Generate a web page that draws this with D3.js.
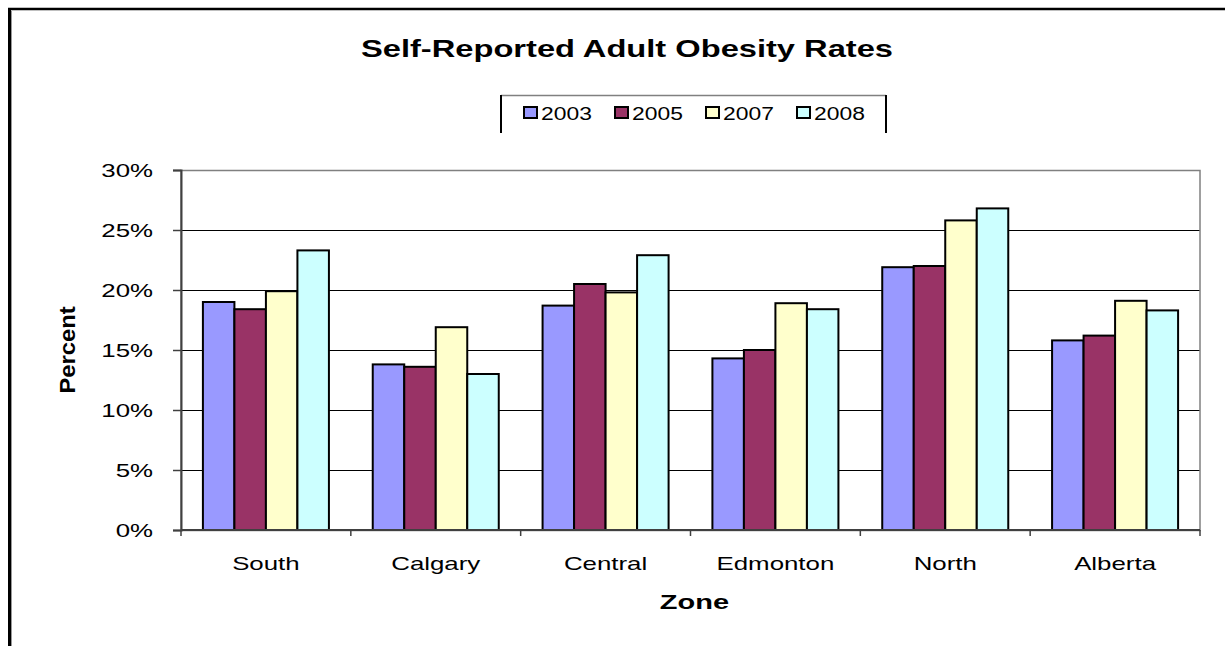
<!DOCTYPE html>
<html lang="en">
<head>
    <meta charset="UTF-8">
    <script src="https://d3js.org/d3.v7.min.js"></script>
    <title>Self-Reported Adult Obesity Rates</title>
    <style>
        body { margin: 0; background: #fff; }
        text { font-family: "Liberation Sans", Arial, sans-serif; fill: #000; }
    </style>
</head>
<body>
<svg class="chart"></svg>
</body>

<script>
    // data (percent)
    let zones = ['South', 'Calgary', 'Central', 'Edmonton', 'North', 'Alberta'];
    let years = ['2003', '2005', '2007', '2008'];
    let v2003 = [19.0, 13.8, 18.7, 14.3, 21.9, 15.8];
    let v2005 = [18.4, 13.6, 20.5, 15.0, 22.0, 16.2];
    let v2007 = [19.9, 16.9, 19.8, 18.9, 25.8, 19.1];
    let v2008 = [23.3, 13.0, 22.9, 18.4, 26.8, 18.3];
    let yTicks = [0, 5, 10, 15, 20, 25, 30];
    let colors = ['#9999ff', '#993366', '#ffffcc', '#ccffff'];

    let series = [v2003, v2005, v2007, v2008];

    let chart_width = 1225, chart_height = 646;
    let plotLeft = 181, plotRight = 1200, plotTop = 170, plotBottom = 530;

    let svg = d3.select('.chart').attr('width', chart_width).attr('height', chart_height);

    // stretch text horizontally like the source image
    function stretch(sel, k) {
        sel.each(function () {
            let w = this.getComputedTextLength();
            d3.select(this).attr('textLength', w * k).attr('lengthAdjust', 'spacingAndGlyphs');
        });
    }

    // outer chart border (left + top)
    svg.append('line').attr('x1', 9.5).attr('x2', 9.5).attr('y1', 8).attr('y2', chart_height)
        .style('stroke', '#000').style('stroke-width', 3);
    svg.append('line').attr('x1', 8).attr('x2', chart_width).attr('y1', 9).attr('y2', 9)
        .style('stroke', '#000').style('stroke-width', 2.5);
    svg.append('line').attr('x1', 11.5).attr('x2', 11.5).attr('y1', 11).attr('y2', chart_height)
        .style('stroke', '#999').style('stroke-width', 1);

    let y = d3.scaleLinear().domain([0, 30]).range([plotBottom, plotTop]);

    let x = d3.scaleBand().domain(zones).range([plotLeft, plotRight])
        .paddingInner(0.258).paddingOuter(0.129);
    let xs = d3.scaleBand().domain(years).range([0, x.bandwidth()]);

    // grid
    svg.append('g').selectAll('line')
        .data(yTicks.filter(d => d > 0 && d < 30))
        .enter()
        .append('line')
        .attr('x1', plotLeft).attr('x2', plotRight)
        .attr('y1', d => Math.round(y(d)) + 0.5).attr('y2', d => Math.round(y(d)) + 0.5)
        .style('stroke', '#000').style('stroke-width', 1.2);

    // plot area border
    svg.append('rect').attr('x', plotLeft).attr('y', plotTop + 0.5)
        .attr('width', plotRight - plotLeft).attr('height', plotBottom - plotTop)
        .style('fill', 'none').style('stroke', '#808080').style('stroke-width', 1.5);

    // bars
    let groups = svg.append('g').selectAll('g')
        .data(zones)
        .enter()
        .append('g')
        .attr('transform', d => 'translate(' + x(d) + ',0)');

    groups.selectAll('rect')
        .data((z, i) => years.map((yr, j) => ({ year: yr, value: series[j][i], j: j })))
        .enter()
        .append('rect')
        .attr('x', d => xs(d.year))
        .attr('width', xs.bandwidth())
        .attr('y', d => y(d.value))
        .attr('height', d => plotBottom - y(d.value))
        .style('fill', d => colors[d.j])
        .style('stroke', '#000').style('stroke-width', 2);

    // y axis
    let yAxis = svg.append('g')
        .attr('transform', 'translate(' + plotLeft + ',0)')
        .call(d3.axisLeft(y).tickValues(yTicks).tickFormat(d => d + '%').tickSize(8).tickPadding(20));
    yAxis.select('.domain').style('stroke', '#404040').style('stroke-width', 2);
    yAxis.selectAll('.tick line').style('stroke', '#404040').style('stroke-width', 1.5);
    yAxis.selectAll('text').style('font-size', '19px').attr('dy', '0.36em')
        .style('font-family', '"Liberation Sans", Arial, sans-serif').call(stretch, 1.36);

    // x axis
    let xAxis = svg.append('g').attr('transform', 'translate(0,' + plotBottom + ')');
    xAxis.append('line').attr('x1', plotLeft).attr('x2', plotRight).attr('y1', 0).attr('y2', 0)
        .style('stroke', '#404040').style('stroke-width', 2);
    xAxis.selectAll('.bound')
        .data(d3.range(zones.length + 1))
        .enter()
        .append('line')
        .attr('x1', i => plotLeft + i * x.step()).attr('x2', i => plotLeft + i * x.step())
        .attr('y1', 0).attr('y2', 6)
        .style('stroke', '#404040').style('stroke-width', 1.5);
    xAxis.selectAll('.lab')
        .data(zones)
        .enter()
        .append('text')
        .attr('x', d => x(d) + x.bandwidth() / 2)
        .attr('y', 40)
        .attr('text-anchor', 'middle')
        .style('font-size', '19px')
        .text(d => d)
        .call(stretch, 1.36);

    // titles
    svg.append('text').attr('x', 627).attr('y', 57).attr('text-anchor', 'middle')
        .style('font-size', '24px').style('font-weight', 'bold')
        .text('Self-Reported Adult Obesity Rates').call(stretch, 1.36);
    svg.append('text').attr('x', (plotLeft + plotRight) / 2 + 4).attr('y', 609).attr('text-anchor', 'middle')
        .style('font-size', '21px').style('font-weight', 'bold')
        .text('Zone').call(stretch, 1.38);
    svg.append('text').attr('transform', 'translate(75,' + (plotTop + plotBottom) / 2 + ') rotate(-90)')
        .attr('text-anchor', 'middle')
        .style('font-size', '22px').style('font-weight', 'bold')
        .text('Percent').call(stretch, 1.08);

    // legend
    let legend = svg.append('g');
    legend.append('line').attr('x1', 501).attr('x2', 886).attr('y1', 95.5).attr('y2', 95.5)
        .style('stroke', '#808080').style('stroke-width', 1.5);
    legend.append('line').attr('x1', 501).attr('x2', 501).attr('y1', 95).attr('y2', 133)
        .style('stroke', '#000').style('stroke-width', 2);
    legend.append('line').attr('x1', 886).attr('x2', 886).attr('y1', 95).attr('y2', 133)
        .style('stroke', '#000').style('stroke-width', 2);

    let items = legend.selectAll('.item')
        .data(years)
        .enter()
        .append('g')
        .attr('transform', (d, i) => 'translate(' + (524 + i * 91) + ',0)');
    items.append('rect')
        .attr('x', 0).attr('y', 107).attr('width', 13).attr('height', 11)
        .style('fill', (d, i) => colors[i]).style('stroke', '#000').style('stroke-width', 2);
    items.append('text')
        .attr('x', 17).attr('y', 120)
        .style('font-size', '18px')
        .text(d => d)
        .call(stretch, 1.27);
</script>

</html>
